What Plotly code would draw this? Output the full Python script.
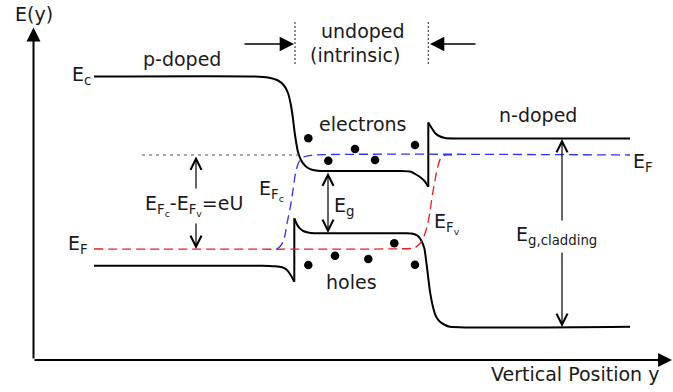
import plotly.graph_objects as go

# ---- data (schematic units: x = position, E = energy) ----
cb_left_x = [94, 255, 268, 278, 284, 288, 290.5, 292.5, 295, 298, 301, 304, 308, 313, 320, 330, 400, 411, 416, 420, 424.5, 428.3]
cb_left_E = [315.5, 315.5, 314.5, 311.5, 306.5, 299, 289, 277, 257, 240, 232, 227.5, 224, 222, 221, 221, 221, 220.3, 217.5, 215, 211, 205.3]
cb_spike_x = [428.3, 428.3]
cb_spike_E = [205.3, 269.5]
cb_right_x = [428.3, 430, 432, 435, 439, 445, 455, 630]
cb_right_E = [269.5, 266.5, 263.5, 259, 256, 254, 253.5, 253.5]

vb_left_x = [94, 262, 275, 282, 287, 291.7, 294.3]
vb_left_E = [126.3, 126.3, 125.7, 124.7, 122, 115.3, 110.3]
vb_spike_x = [294.3, 294.3]
vb_spike_E = [110.3, 173.7]
vb_right_x = [294.3, 296, 298.3, 300.5, 303.3, 308, 314, 330, 405, 413, 418, 421, 424.3, 426.7, 428.5, 430, 433.3, 436, 440, 445, 450, 630]
vb_right_E = [173.7, 169.5, 165.3, 163, 161, 159.5, 158.7, 158.7, 158.7, 158.3, 156, 152, 143.7, 127, 112, 100.3, 83.7, 75.5, 70.3, 67, 65.3, 65.3]

ef_ref_x = [142, 300]
ef_ref_E = [237, 237]
efc_x = [276.7, 280, 283, 285, 287.7, 290.7, 293, 295, 297, 299, 301.5, 305, 313, 630]
efc_E = [143, 145.5, 150, 157, 172, 187, 202, 216, 225, 230, 233.5, 235.5, 237, 237]
efv_x = [94, 410, 415, 420, 423.3, 426.7, 430, 432, 434, 436.5, 438.5, 440.5, 443, 446, 452]
efv_E = [143, 143.5, 144.3, 148.5, 153.7, 164, 180, 195, 206, 220, 228, 233.5, 236, 237, 237]

electrons_x = [308.3, 328.3, 355, 375, 415]
electrons_E = [253.7, 231.3, 243, 232, 247]
holes_x = [308.3, 335, 368.3, 394.3, 415]
holes_E = [127, 136.3, 133, 148.7, 127.3]

undoped_bounds_x = [295, 428.3]
undoped_bracket_E = [370, 327]

FONT = "DejaVu Sans"
TXT = "#1a1a1a"

fig = go.Figure()

def band(xs_list, es_list):
    X, Y = [], []
    for xs, es in zip(xs_list, es_list):
        X += xs + [None]
        Y += es + [None]
    return X, Y

X, Y = band([cb_left_x, cb_spike_x, cb_right_x], [cb_left_E, cb_spike_E, cb_right_E])
fig.add_trace(go.Scatter(x=X, y=Y, mode="lines", line=dict(color="black", width=2, shape="spline", smoothing=0.6), hoverinfo="skip"))
X, Y = band([vb_left_x, vb_spike_x, vb_right_x], [vb_left_E, vb_spike_E, vb_right_E])
fig.add_trace(go.Scatter(x=X, y=Y, mode="lines", line=dict(color="black", width=2, shape="spline", smoothing=0.6), hoverinfo="skip"))

fig.add_trace(go.Scatter(x=ef_ref_x, y=ef_ref_E, mode="lines", line=dict(color="#555555", width=1.2, dash="3px,4px"), hoverinfo="skip"))
fig.add_trace(go.Scatter(x=efv_x, y=efv_E, mode="lines", line=dict(color="#ee1c1c", width=1.3, dash="9px,5px", shape="spline", smoothing=0.6), hoverinfo="skip"))
fig.add_trace(go.Scatter(x=efc_x, y=efc_E, mode="lines", line=dict(color="#2f2fff", width=1.3, dash="9px,5px", shape="spline", smoothing=0.6), hoverinfo="skip"))

for bx in undoped_bounds_x:
    fig.add_trace(go.Scatter(x=[bx, bx], y=undoped_bracket_E, mode="lines", line=dict(color="#444444", width=1.2, dash="2px,2px"), hoverinfo="skip"))

fig.add_trace(go.Scatter(x=electrons_x, y=electrons_E, mode="markers", marker=dict(color="black", size=8.5), hoverinfo="skip"))
fig.add_trace(go.Scatter(x=holes_x, y=holes_E, mode="markers", marker=dict(color="black", size=8.5), hoverinfo="skip"))

ann = []

def arrow(x0, y0, x1, y1, head=5, size=1.8, width=1.2, side="end"):
    ann.append(dict(x=x1, y=y1, ax=x0, ay=y0, xref="x", yref="y", axref="x", ayref="y",
                    text="", showarrow=True, arrowhead=head, startarrowhead=head, arrowsize=size, startarrowsize=size,
                    arrowwidth=width, arrowcolor="black", arrowside=side, standoff=0, startstandoff=0))

# axes
arrow(33.5, 32, 33.5, 364.5, head=2, size=1.4, width=2)
arrow(33, 32, 672, 32, head=2, size=1.4, width=2)
# undoped region markers
arrow(243, 348, 294, 348, head=2, size=2.2, width=1.3)
arrow(477, 348, 430, 348, head=2, size=2.2, width=1.3)
# eU
arrow(196, 202, 196, 235.5)
arrow(196, 170, 196, 143)
# Eg
arrow(328, 221, 328, 159, side="end+start")
# Eg cladding
arrow(562, 170, 562, 253)
arrow(562, 141, 562, 65)

def label(x, y, text, xa="center", size=19):
    ann.append(dict(x=x, y=y, xref="x", yref="y", text=text, showarrow=False,
                    xanchor=xa, yanchor="middle", font=dict(family=FONT, size=size, color=TXT)))

label(34, 378, "E(y)")
label(182, 333, "p-doped")
label(362.5, 361.5, "undoped")
label(355, 337, "(intrinsic)")
label(93, 317, "E<sub>c</sub>", xa="right")
label(363, 268, "electrons")
label(537.5, 277, "n-doped")
label(631, 230, "E<sub>F</sub>", xa="left")
label(90, 148, "E<sub>F</sub>", xa="right")
label(286, 202, "E<sub>F<sub>c</sub></sub>", xa="right")
label(332, 186, "E<sub>g</sub>", xa="left")
label(432, 169, "E<sub>F<sub>v</sub></sub>", xa="left")
label(194, 187, "E<sub>F<sub>c</sub></sub>-E<sub>F<sub>v</sub></sub>=eU")
label(556.5, 157, "E<sub>g,cladding</sub>")
label(351, 110, "holes")
label(575, 18, "Vertical Position y")

fig.update_layout(
    width=673, height=392, margin=dict(l=0, r=0, t=0, b=0),
    paper_bgcolor="white", plot_bgcolor="white", showlegend=False,
    xaxis=dict(range=[0, 673], visible=False, fixedrange=True),
    yaxis=dict(range=[0, 392], visible=False, fixedrange=True),
    annotations=ann,
)

fig.write_html("out.html")
